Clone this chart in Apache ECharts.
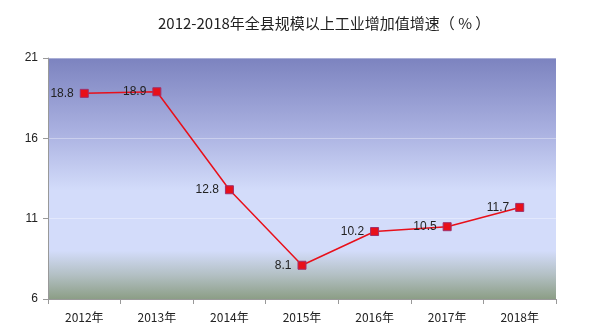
<!DOCTYPE html>
<html><head><meta charset="utf-8">
<script src="https://cdn.jsdelivr.net/npm/echarts@6/dist/echarts.min.js"></script>
<style>html,body{margin:0;padding:0;background:#fff}#c{width:600px;height:335px}</style>
</head><body><div id="c"></div>
<script>
var titleText = '2012-2018年全县规模以上工业增加值增速（ % ）';
var categories = ['2012年','2013年','2014年','2015年','2016年','2017年','2018年'];
var values = [18.8, 18.9, 12.8, 8.1, 10.2, 10.5, 11.7];
var yTicks = [6, 11, 16, 21];

var chart = echarts.init(document.getElementById('c'));
chart.setOption({
  animation: false,
  title: {
    text: titleText, left: 153, top: 11,
    textStyle: {fontFamily: 'Noto Sans CJK SC', fontSize: 15, fontWeight: 'normal', color: '#222'}
  },
  grid: {
    left: 48, right: 44, top: 58, bottom: 36,
    show: true, borderWidth: 0,
    backgroundColor: new echarts.graphic.LinearGradient(0, 0, 0, 1, [
      {offset: 0, color: '#7c83bf'},
      {offset: 0.3, color: '#a9b0e0'},
      {offset: 0.55, color: '#d3dcfa'},
      {offset: 0.8, color: '#d3dcfa'},
      {offset: 0.9, color: '#b3c0c4'},
      {offset: 1, color: '#8c9e86'}
    ])
  },
  xAxis: {
    type: 'category', data: categories, boundaryGap: true,
    axisLine: {lineStyle: {color: '#999'}},
    axisTick: {show: true, length: 5, lineStyle: {color: '#999'}},
    axisLabel: {color: '#222', fontSize: 12, margin: 12, fontFamily: 'Noto Sans CJK SC'}
  },
  yAxis: {
    type: 'value', min: yTicks[0], max: yTicks[yTicks.length-1], interval: 5,
    axisLine: {show: true, lineStyle: {color: '#999'}},
    axisTick: {show: true, length: 5, lineStyle: {color: '#999'}},
    axisLabel: {color: '#222', fontSize: 12, margin: 10},
    splitLine: {show: true, lineStyle: {color: 'rgba(255,255,255,0.35)', width: 1}}
  },
  series: [{
    type: 'line', data: values,
    symbol: 'rect', symbolSize: 8,
    lineStyle: {color: '#e8101a', width: 1.5},
    itemStyle: {color: '#e8101a', borderColor: '#a0306a', borderWidth: 1},
    label: {show: true, position: 'left', distance: 6, color: '#222', fontSize: 12}
  }]
});
</script></body></html>
